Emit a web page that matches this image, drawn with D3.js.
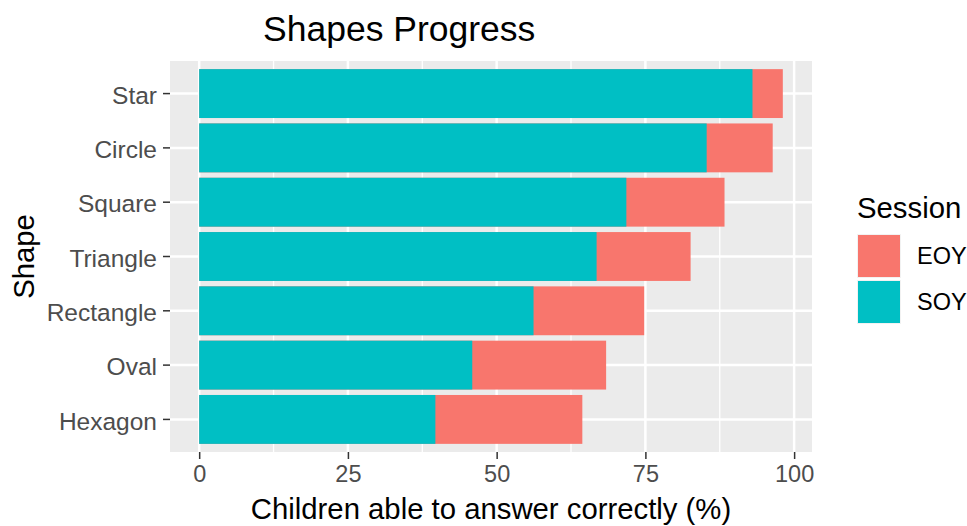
<!DOCTYPE html>
<html>
<head>
<meta charset="utf-8">
<script src="https://cdn.jsdelivr.net/npm/d3@7"></script>
<style>
  body { margin: 0; background: #fff; }
  svg text { font-family: "Liberation Sans", Arial, sans-serif; }
</style>
</head>
<body>
<div id="chart"></div>
<script>
// Data
const shapes = ['Star', 'Circle', 'Square', 'Triangle', 'Rectangle', 'Oval', 'Hexagon'];
const eoyValues = [98.1, 96.4, 88.3, 82.6, 74.8, 68.4, 64.4];
const soyValues = [93.0, 85.3, 71.8, 66.8, 56.2, 45.9, 39.7];
const xTicks = [0, 25, 50, 75, 100];
const sessions = ['EOY', 'SOY'];
const sessionColors = ['#F8766D', '#00BFC4'];

const width = 967, height = 526;
const panel = { left: 170, right: 812, top: 61, bottom: 452 };
const axisTextSize = '23.5px';

const svg = d3.select('#chart').append('svg')
    .attr('width', width)
    .attr('height', height);

// Scales (ggplot style expansion)
const maxVal = d3.max(eoyValues);
const x = d3.scaleLinear()
    .domain([-0.05 * maxVal, maxVal * 1.05])
    .range([panel.left, panel.right]);

// 0.6 expansion each side, bar width 0.9
const y = d3.scaleBand()
    .domain(shapes)
    .range([panel.top, panel.bottom])
    .paddingInner(0.1)
    .paddingOuter(0.15);

const color = d3.scaleOrdinal().domain(sessions).range(sessionColors);

// Panel background
svg.append('rect')
    .attr('x', panel.left)
    .attr('y', panel.top)
    .attr('width', panel.right - panel.left)
    .attr('height', panel.bottom - panel.top)
    .attr('fill', '#EBEBEB');

// Minor grid
const minorTicks = d3.range(12.5, 100, 25);
svg.append('g').selectAll('line')
    .data(minorTicks)
    .join('line')
    .attr('x1', d => x(d)).attr('x2', d => x(d))
    .attr('y1', panel.top).attr('y2', panel.bottom)
    .attr('stroke', '#fff').attr('stroke-width', 1.3);

// Major grid
svg.append('g').selectAll('line')
    .data(xTicks)
    .join('line')
    .attr('x1', d => x(d)).attr('x2', d => x(d))
    .attr('y1', panel.top).attr('y2', panel.bottom)
    .attr('stroke', '#fff').attr('stroke-width', 2.5);

svg.append('g').selectAll('line')
    .data(shapes)
    .join('line')
    .attr('x1', panel.left).attr('x2', panel.right)
    .attr('y1', d => y(d) + y.bandwidth() / 2)
    .attr('y2', d => y(d) + y.bandwidth() / 2)
    .attr('stroke', '#fff').attr('stroke-width', 2.5);

// Bars: EOY behind, SOY on top
const rows = shapes.map((s, i) => ({ shape: s, EOY: eoyValues[i], SOY: soyValues[i] }));

sessions.forEach(sess => {
    svg.append('g').selectAll('rect')
        .data(rows)
        .join('rect')
        .attr('x', x(0))
        .attr('y', d => y(d.shape))
        .attr('width', d => x(d[sess]) - x(0))
        .attr('height', y.bandwidth())
        .attr('fill', color(sess));
});

// X axis
const xAxis = svg.append('g')
    .attr('transform', `translate(0,${panel.bottom})`)
    .call(d3.axisBottom(x).tickValues(xTicks).tickSize(7).tickPadding(6));
xAxis.select('.domain').remove();
xAxis.selectAll('line').attr('stroke', '#333').attr('stroke-width', 1.5);
xAxis.selectAll('text')
    .attr('fill', '#4D4D4D')
    .style('font-size', axisTextSize);

// Y axis
const yAxis = svg.append('g')
    .attr('transform', `translate(${panel.left},0)`)
    .call(d3.axisLeft(y).tickSize(7).tickPadding(6));
yAxis.select('.domain').remove();
yAxis.selectAll('line').attr('stroke', '#333').attr('stroke-width', 1.5);
yAxis.selectAll('text')
    .attr('fill', '#4D4D4D')
    .attr('dy', '0.42em')
    .style('font-size', '24.5px');

// Titles
svg.append('text')
    .attr('x', 263)
    .attr('y', 41)
    .style('font-size', '35.5px')
    .attr('fill', '#000')
    .text('Shapes Progress');

svg.append('text')
    .attr('x', (panel.left + panel.right) / 2)
    .attr('y', 519)
    .attr('text-anchor', 'middle')
    .style('font-size', '29.3px')
    .text('Children able to answer correctly (%)');

svg.append('text')
    .attr('transform', `translate(34,${(panel.top + panel.bottom) / 2}) rotate(-90)`)
    .attr('text-anchor', 'middle')
    .style('font-size', '29.3px')
    .text('Shape');

// Legend
const legend = svg.append('g').attr('transform', 'translate(857,0)');
legend.append('text')
    .attr('x', 0)
    .attr('y', 218)
    .style('font-size', '29.3px')
    .text('Session');

const keys = legend.selectAll('g.key')
    .data(sessions)
    .join('g')
    .attr('class', 'key')
    .attr('transform', (d, i) => `translate(0,${234 + i * 46})`);

keys.append('rect')
    .attr('x', 0.5).attr('y', 0.5)
    .attr('width', 43).attr('height', 43)
    .attr('fill', d => color(d))
    .attr('stroke', '#F2F2F2');

keys.append('text')
    .attr('x', 60)
    .attr('y', 22)
    .attr('dy', '0.35em')
    .style('font-size', axisTextSize)
    .text(d => d);
</script>
</body>
</html>
